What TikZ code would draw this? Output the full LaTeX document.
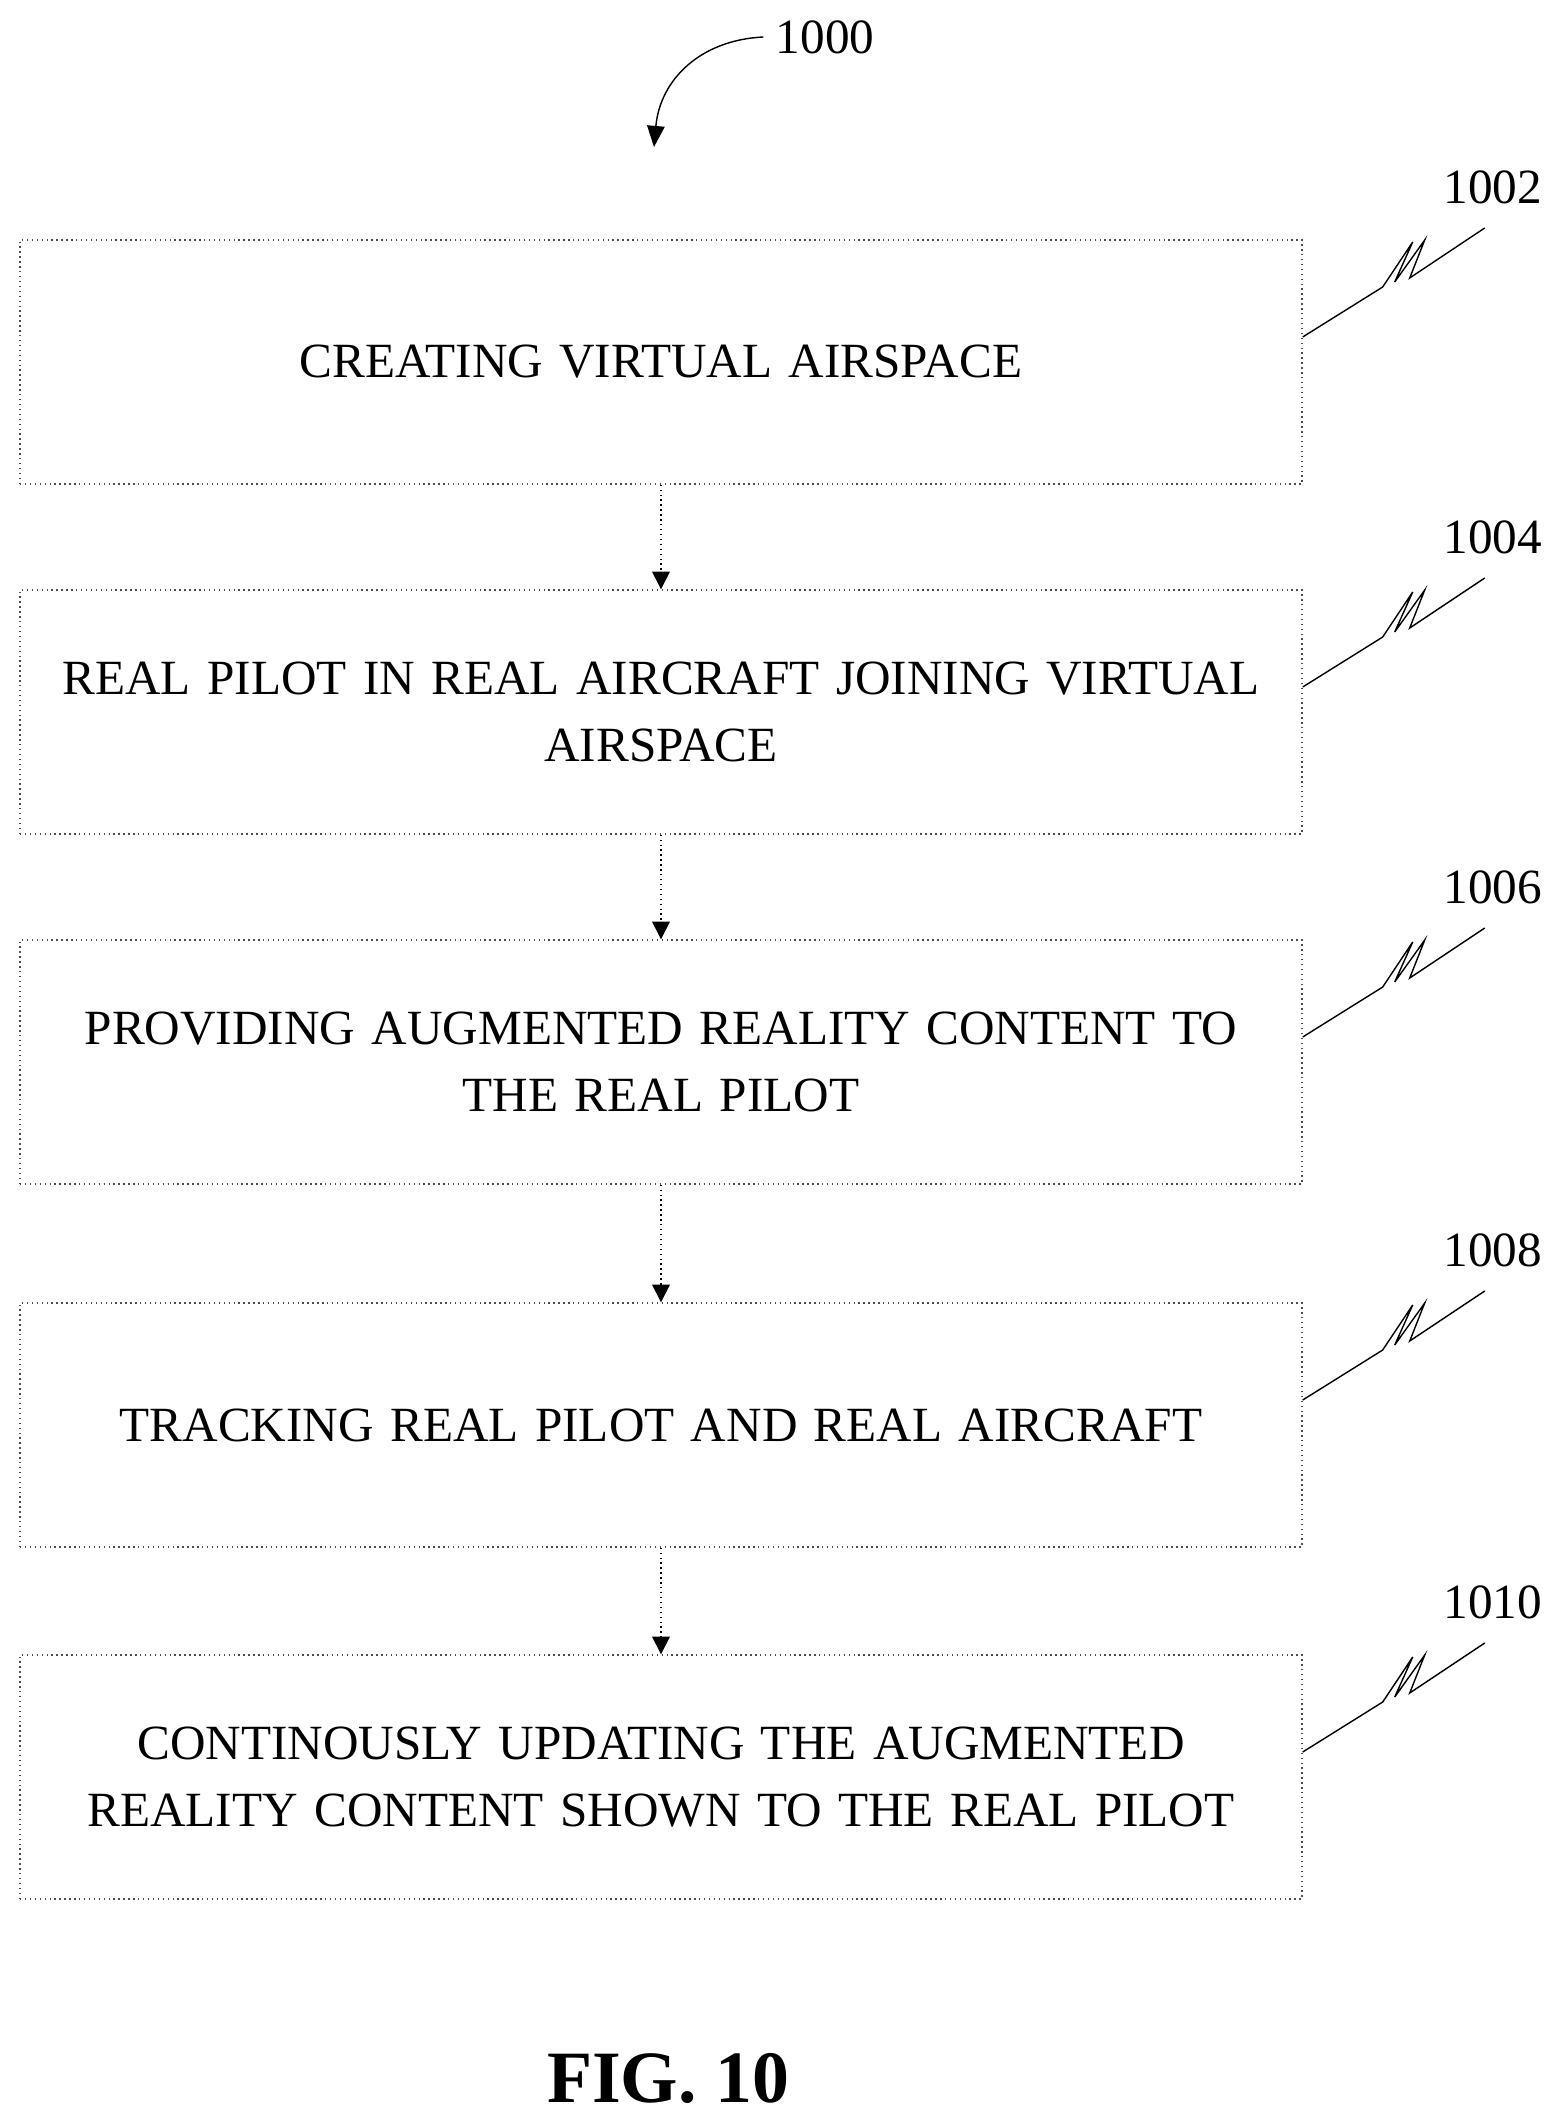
\documentclass[tikz,border=0pt]{standalone}
\usepackage{fontspec}
\setmainfont{Liberation Serif}
\usetikzlibrary{positioning,arrows.meta}
\tikzset{
  stepbox/.style={draw=black!70, densely dotted, minimum width=12.82cm, minimum height=2.44cm, align=center, font=\fontsize{14}{19}\selectfont, text width=12.5cm},
  flow/.style={densely dotted, -{Triangle[length=5pt,width=5pt]}},
  refnum/.style={font=\fontsize{14}{16}\selectfont}
}
\newcommand{\squig}[1]{\draw (#1.east) ++(0,0.25) -- ++(0.8,0.5) -- ++(0.3,0.45) -- ++(-0.18,-0.4) -- ++(0.3,0.42) -- ++(-0.15,-0.38) -- ++(0.75,0.5);}
\begin{document}
\begin{tikzpicture}
  \useasboundingbox (0,0) rectangle (15.54,-21.28);
  \node[stepbox] (s1) at (6.61,-3.62) {CREATING VIRTUAL AIRSPACE};
  \node[stepbox] (s2) at (6.61,-7.12) {REAL PILOT IN REAL AIRCRAFT JOINING VIRTUAL\\ AIRSPACE};
  \node[stepbox] (s3) at (6.61,-10.62) {PROVIDING AUGMENTED REALITY CONTENT TO\\ THE REAL PILOT};
  \node[stepbox] (s4) at (6.61,-14.25) {TRACKING REAL PILOT AND REAL AIRCRAFT};
  \node[stepbox] (s5) at (6.61,-17.77) {CONTINOUSLY UPDATING THE AUGMENTED\\ REALITY CONTENT SHOWN TO THE REAL PILOT};

  \draw[flow] (s1) -- (s2);
  \draw[flow] (s2) -- (s3);
  \draw[flow] (s3) -- (s4);
  \draw[flow] (s4) -- (s5);

  % reference numerals
  \foreach \n/\lab in {s1/1002,s2/1004,s3/1006,s4/1008,s5/1010}{
    \squig{\n}
    \node[refnum] at ([xshift=1.9cm,yshift=1.75cm]\n.east) {\lab};
  }

  \node[refnum] (top) at (8.25,-0.37) {1000};
  \draw[-{Triangle[length=6pt,width=5pt]}] (top.west) .. controls (7.0,-0.4) and (6.6,-0.8) .. (6.54,-1.47);

  \node[font=\bfseries\fontsize{21}{24}\selectfont] (fig) at (6.68,-20.78) {FIG. 10};
\end{tikzpicture}
\end{document}
